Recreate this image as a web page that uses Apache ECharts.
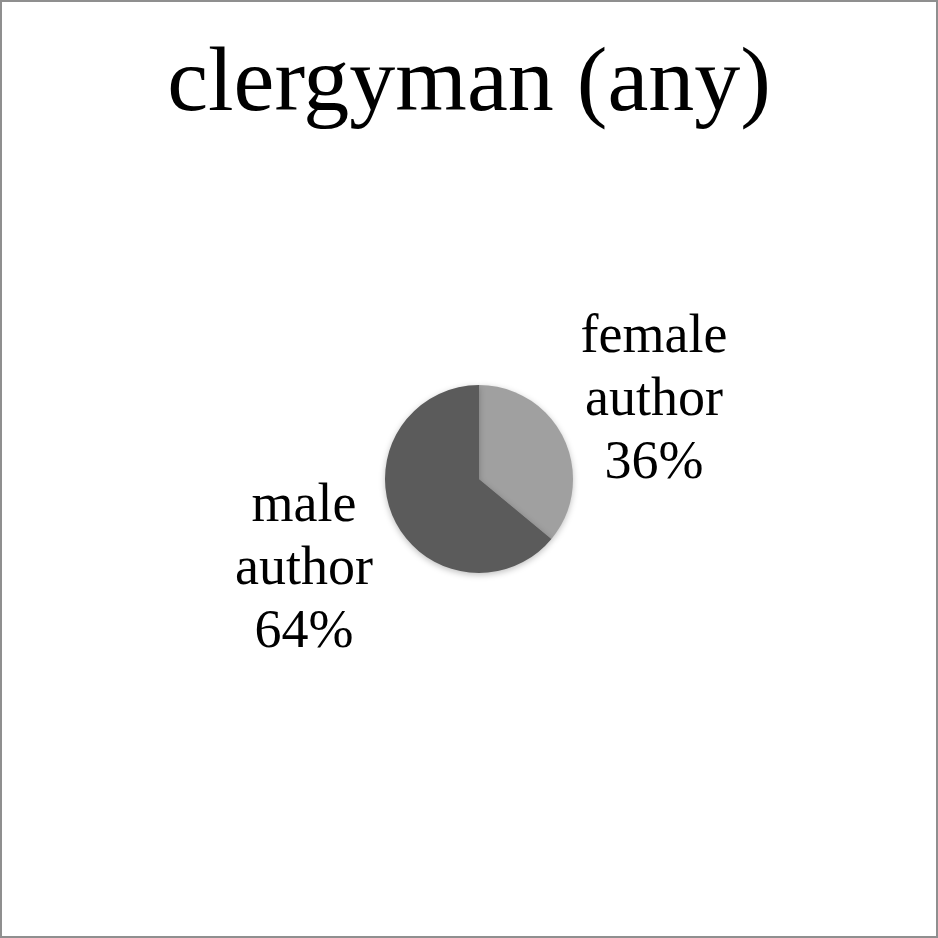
<!DOCTYPE html>
<html>
<head>
<meta charset="utf-8">
<script src="https://cdn.jsdelivr.net/npm/echarts@6/dist/echarts.min.js"></script>
<style>
  html, body { margin: 0; padding: 0; background: #fff; }
  #chart { width: 938px; height: 938px; box-sizing: border-box; border: 2px solid #8f8f8f; }
</style>
</head>
<body>
<div id="chart"></div>
<script>
const categories = ["female author", "male author"];
const shares = [36, 64];
const sliceColors = ["#a0a0a0", "#5b5b5b"];

// where each label block sits (centre), same order as categories
const labelSpots = [[652, 399], [302, 568]];

const chart = echarts.init(document.getElementById("chart"));

chart.setOption({
  animation: false,
  title: {
    text: "clergyman (any)",
    left: "center",
    top: 33,
    textStyle: {
      fontFamily: "Liberation Serif",
      fontWeight: "normal",
      fontSize: 92,
      color: "#000"
    }
  },
  series: [{
    type: "pie",
    center: [477, 477],
    radius: 94,
    startAngle: 90,
    clockwise: true,
    data: categories.map((name, i) => ({
      name: name,
      value: shares[i],
      itemStyle: { color: sliceColors[i] }
    })),
    itemStyle: {
      shadowBlur: 6,
      shadowOffsetY: 2,
      shadowColor: "rgba(0,0,0,0.25)"
    },
    label: {
      show: true,
      formatter: p => p.name.replace(" ", "\n") + "\n" + p.value + "%",
      fontFamily: "Liberation Serif",
      fontSize: 54,
      lineHeight: 63,
      color: "#000",
      align: "center"
    },
    labelLine: { show: false },
    labelLayout: p => ({
      x: labelSpots[p.dataIndex][0],
      y: labelSpots[p.dataIndex][1],
      align: "center",
      verticalAlign: "middle"
    }),
    emphasis: { disabled: true }
  }]
});
</script>
</body>
</html>
